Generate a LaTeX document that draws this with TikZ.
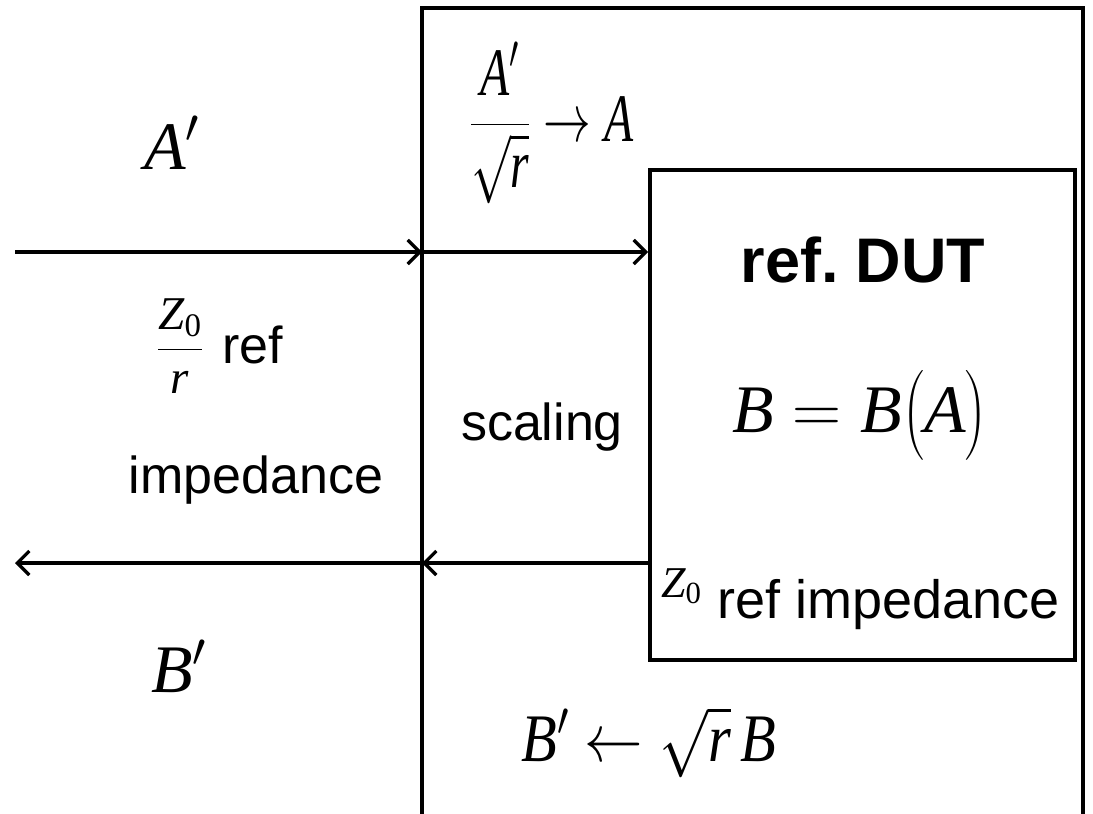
\RequirePackage{fix-cm}
\documentclass[tikz,border=0pt]{standalone}
\usepackage{amsmath}
\usepackage[no-math]{fontspec}
\setmainfont{Liberation Sans}
\newfontfamily\tms{Liberation Serif}
\usetikzlibrary{arrows.meta}
\newcommand\mi[1]{\text{\tms\itshape #1}}
\newcommand\mr[1]{\text{\tms #1}}
\frenchspacing
\tikzset{
  box/.style={draw, line width=4pt},
  sig/.style={line width=3.2pt, -{Straight Barb[length=12pt,width=24pt,line width=3.2pt]}},
  lbl/.style={font=\fontsize{52}{60}\selectfont, inner sep=0pt},
  mth/.style={font=\fontsize{68}{76}\selectfont, inner sep=0pt},
  sml/.style={font=\fontsize{44}{50}\selectfont, inner sep=0pt},
}
\begin{document}
\begin{tikzpicture}[x=1pt,y=-1pt]
\useasboundingbox (0,0) rectangle (1093,814);
\clip (0,0) rectangle (1093,814);
% outer scaling box (open at the bottom)
\coordinate (oTL) at (422,8);
\coordinate (oTR) at (1083,8);
\coordinate (oBL) at (422,830);
\coordinate (oBR) at (1083,830);
\draw[box, line cap=rect] (oBL) -- (oTL) -- (oTR) -- (oBR);
% inner DUT box
\node[box, minimum width=425pt, minimum height=490pt, inner sep=0pt] (dut) at (862.5,415) {};
% connector points
\coordinate (inL) at (15,252);
\coordinate (inM) at (422,252);
\coordinate (outM) at (422,563);
\coordinate (outL) at (15,563);
\draw[sig] (inL) -- (inM);
\draw[sig] (inM) -- (dut.west |- inM);
\draw[sig] (dut.west |- outM) -- (outM);
\draw[sig] (outM) -- (outL);
% left side texts
\node[mth] (ap) at (172,143) {$\mi{A}'$};
\node[mth] (bp) at (179,666) {$\mi{B}'$};
\node[sml, font=\fontsize{47}{52}\selectfont, anchor=base] (zfrac) at (180,361) {$\dfrac{\mi{Z}_{\mr{0}}}{\mi{r}}$};
\node[lbl, anchor=base west] (zrref) at (222,363) {ref};
\node[lbl, anchor=base] (imp) at (256,493) {impedance};
% scaling box texts
\node[mth, anchor=west] (scal) at (470,123) {\scalebox{0.7}[1]{$\dfrac{\mi{A}'}{\sqrt{\mi{r}}}\rightarrow\mi{A}$}};
\node[lbl, anchor=base] (scl) at (542,440) {scaling};
\node[mth] (bout) at (649,742) {\scalebox{0.86}[1]{$\mi{B}'\leftarrow\sqrt{\mi{r}}\,\mi{B}$}};
% DUT texts
\node[lbl, font=\fontsize{63}{70}\selectfont\bfseries, anchor=base] (dutt) at (863,282) {ref. DUT};
\node[mth] (bfun) at (860,415) {$\mi{B}=\mi{B}\bigl(\mi{A}\bigr)$};
\node[sml, anchor=base west] (zsym) at (661,597) {$\mi{Z}_{\mr{0}}$};
\node[lbl, font=\fontsize{54}{60}\selectfont, anchor=base west] (zref) at (717,618) {ref impedance};
\end{tikzpicture}
\end{document}
